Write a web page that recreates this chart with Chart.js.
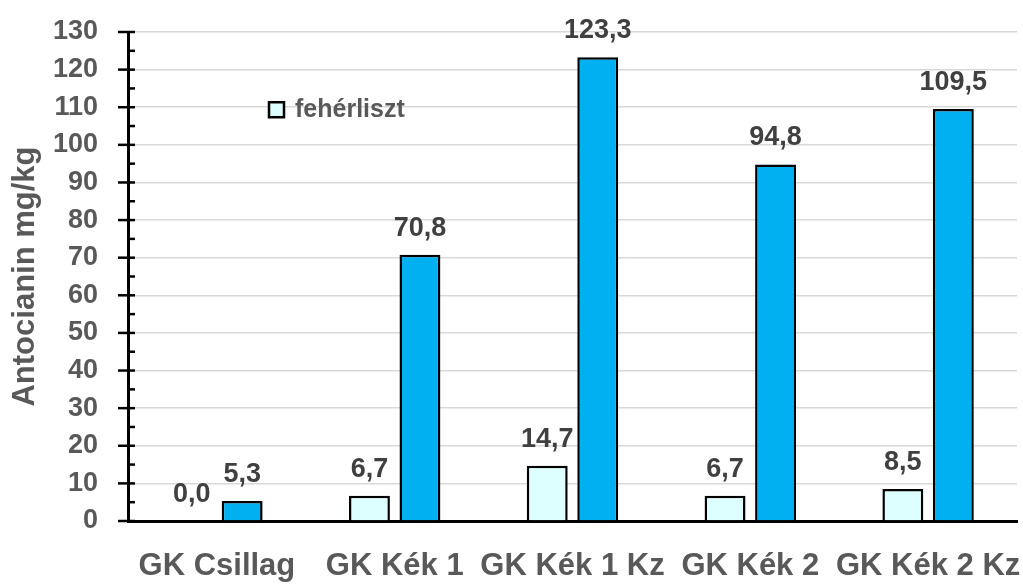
<!DOCTYPE html>
<html>
<head>
<meta charset="utf-8">
<script src="https://cdn.jsdelivr.net/npm/chart.js@4/dist/chart.umd.min.js"></script>
<style>
  html, body { margin: 0; padding: 0; background: #fff; }
  #wrap { width: 1023px; height: 584px; }
</style>
</head>
<body>
<div id="wrap"><canvas id="chart" width="1023" height="584"></canvas></div>
<script>
const categories = ["GK Csillag", "GK Kék 1", "GK Kék 1 Kz", "GK Kék 2", "GK Kék 2 Kz"];
const feherliszt = [0.0, 6.7, 14.7, 6.7, 8.5];
const masodik = [5.3, 70.8, 123.3, 94.8, 109.5];
const seriesNames = ["fehérliszt", "teljes kiőrlésű liszt"];
const yMin = 0, yMax = 130, yStep = 10, yMinorStep = 5;

const font = "'Liberation Sans', Arial, sans-serif";
const textColor = "#595959";

// formázás vesszővel
const fmt = v => v.toFixed(1).replace(".", ",");

// értékcímkék a hasábok fölé
const labelPlugin = {
    id: "barLabels",
    afterDatasetsDraw(chart) {
        const ctx = chart.ctx;
        ctx.save();
        ctx.font = "bold 27px " + font;
        ctx.fillStyle = "#404040";
        ctx.textAlign = "center";
        ctx.textBaseline = "alphabetic";
        chart.data.datasets.forEach((ds, i) => {
            chart.getDatasetMeta(i).data.forEach((bar, j) => {
                ctx.fillText(fmt(ds.data[j]), bar.x, bar.y - 19);
            });
        });
        ctx.restore();
    }
};

// tengely osztások + jelmagyarázat a rajzterületen belül
const axisPlugin = {
    id: "axisTicks",
    afterDraw(chart) {
        const ctx = chart.ctx;
        const y = chart.scales.y;
        const x0 = chart.chartArea.left;
        ctx.save();
        ctx.strokeStyle = "#000";
        ctx.lineWidth = 2.5;
        for (let v = yMin; v <= yMax; v += yMinorStep) {
            const py = y.getPixelForValue(v);
            const major = v % yStep === 0;
            ctx.beginPath();
            ctx.moveTo(major ? x0 - 10 : x0, py);
            ctx.lineTo(x0 + 7, py);
            ctx.stroke();
        }
        // legend: csak az első sorozat
        const ds = chart.data.datasets[0];
        const ly = y.getPixelForValue(110) + 3;
        const lx = 269;
        ctx.fillStyle = ds.backgroundColor;
        ctx.lineWidth = 2.5;
        ctx.fillRect(lx, ly - 8, 15, 15);
        ctx.strokeRect(lx, ly - 8, 15, 15);
        ctx.font = "bold 25px " + font;
        ctx.fillStyle = textColor;
        ctx.textAlign = "left";
        ctx.textBaseline = "middle";
        ctx.fillText(ds.label, lx + 26, ly);
        ctx.restore();
    }
};

new Chart(document.getElementById("chart"), {
    type: "bar",
    data: {
        labels: categories,
        datasets: [{
            label: seriesNames[0],
            data: feherliszt,
            backgroundColor: "#DDFFFF",
            borderColor: "#000",
            borderWidth: 2.5
        }, {
            label: seriesNames[1],
            data: masodik,
            backgroundColor: "#00B0F0",
            borderColor: "#000",
            borderWidth: 2.5
        }]
    },
    options: {
        responsive: false,
        animation: false,
        categoryPercentage: 0.568,
        barPercentage: 0.81,
        layout: { padding: { top: 32, right: 6, left: 0, bottom: 0 } },
        plugins: {
            legend: { display: false },
            tooltip: { enabled: false }
        },
        scales: {
            x: {
                grid: { display: false, drawTicks: false },
                border: { color: "#000", width: 3 },
                ticks: {
                    color: textColor,
                    font: { family: font, size: 31, weight: "bold" },
                    padding: 27,
                    maxRotation: 0,
                    autoSkip: false
                },
                afterFit(scale) {
                    scale.height = 63;
                    scale.paddingLeft = 0;
                    scale.paddingRight = 0;
                }
            },
            y: {
                min: yMin,
                max: yMax,
                grid: { color: "#D9D9D9", lineWidth: 1.5, drawTicks: false },
                border: { color: "#000", width: 3 },
                ticks: {
                    stepSize: yStep,
                    color: textColor,
                    font: { family: font, size: 27, weight: "bold" },
                    padding: 30
                },
                title: {
                    display: true,
                    text: "Antocianin mg/kg",
                    color: textColor,
                    font: { family: font, size: 31, weight: "bold" },
                    padding: { top: 7, bottom: 0 }
                },
                afterFit(scale) {
                    scale.width = 128;
                    scale.paddingTop = 0;
                    scale.paddingBottom = 0;
                }
            }
        }
    },
    plugins: [labelPlugin, axisPlugin]
});
</script>
</body>
</html>
